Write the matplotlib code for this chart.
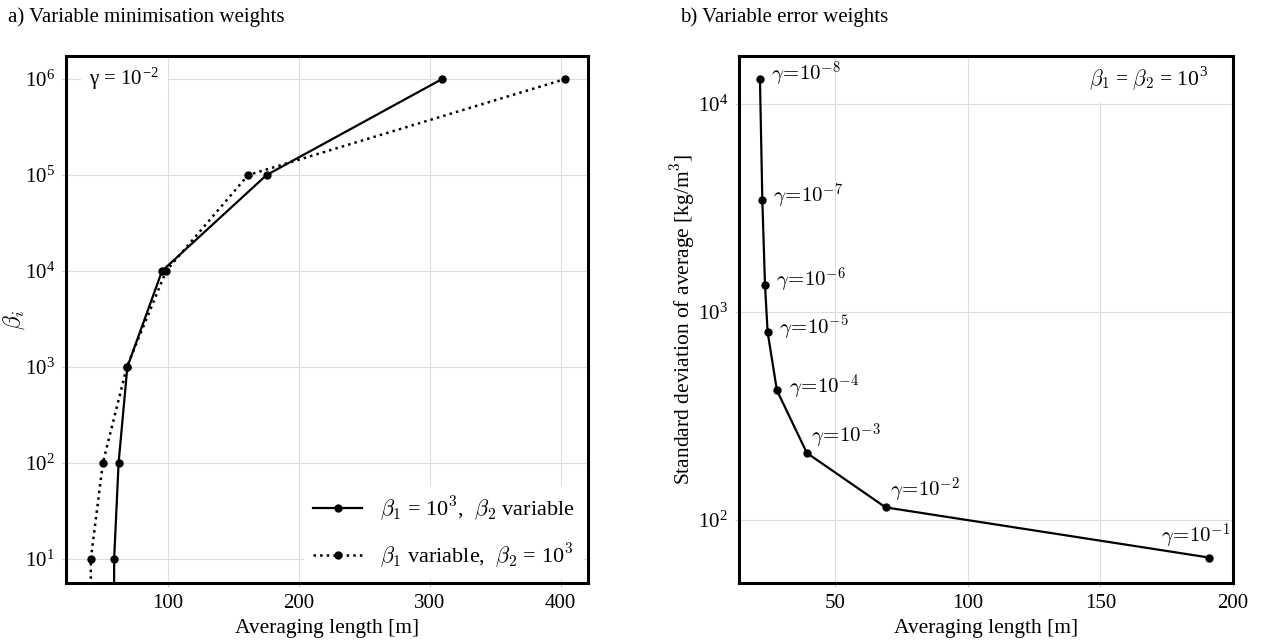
import numpy as np
import matplotlib
matplotlib.use("Agg")
import matplotlib.pyplot as plt

plt.rcParams['font.family'] = ['Liberation Serif', 'DejaVu Serif']
plt.rcParams['mathtext.fontset'] = 'cm'
plt.rcParams['font.size'] = 15

# a) variable minimisation weights
beta_values = [1e0, 1e1, 1e2, 1e3, 1e4, 1e5, 1e6]
len_beta2_var = [58.7, 58.8, 62.2, 68.9, 95.4, 175.3, 309.4]   # beta1 = 1e3
len_beta1_var = [40.8, 41.0, 50.2, 68.5, 98.5, 161.2, 403.5]   # beta2 = 1e3

# b) variable error weights (beta1 = beta2 = 1e3)
gamma_exp = [-8, -7, -6, -5, -4, -3, -2, -1]
len_gamma = [21.6, 22.5, 23.5, 24.5, 28.0, 39.3, 69.0, 191.0]
std_gamma = [13200, 3450, 1350, 800, 420, 210, 115, 66]

# where to put each gamma label relative to its point (points offset, ha)
label_pos = {-8: (8, 3, 'left'), -7: (8, 3, 'left'), -6: (8, 3, 'left'),
             -5: (8, 3, 'left'), -4: (9, 2, 'left'), -3: (3, 12, 'left'),
             -2: (3, 12, 'left'), -1: (15, 15, 'right')}

W, H = 1263, 644
fig = plt.figure(figsize=(W/100, H/100), dpi=100)

def px_axes(l, t, r, b):
    return fig.add_axes([l/W, 1-b/H, (r-l)/W, (b-t)/H])

def style(ax):
    ax.grid(True, which='major', color='#dddddd', linewidth=0.8)
    ax.set_axisbelow(True)
    for s in ax.spines.values():
        s.set_linewidth(2.2)
    ax.tick_params(which='both', direction='out', length=3, width=0.8,
                   color='#cccccc', labelsize=15, pad=5)
    ax.tick_params(which='minor', length=0)

ax1 = px_axes(66, 56, 588, 583)
style(ax1)
ax1.set_yscale('log')
l1, = ax1.plot(len_beta2_var, beta_values, '-', color='black', lw=1.6,
               marker='o', ms=5)
l2, = ax1.plot(len_beta1_var, beta_values, ':', color='black', lw=1.8,
               marker='o', ms=5)
ax1.set_xlim(22, 421)
ax1.set_ylim(5.6, 1.74e6)
ax1.set_xticks([100, 200, 300, 400])
ax1.set_yticks([1e1, 1e2, 1e3, 1e4, 1e5, 1e6])
ax1.set_xlabel('Averaging length [m]', fontsize=15.5, labelpad=4)
ax1.set_ylabel(r'$\beta_i$', fontsize=17)
ax1.yaxis.set_label_coords((27 - 66) / 522, 0.5)
ax1.text(0.045, 0.955, 'γ = 10$^{\\mathregular{-2}}$', transform=ax1.transAxes,
         fontsize=15, va='center', ha='left',
         bbox=dict(facecolor='white', edgecolor='none', pad=6))
leg = ax1.legend([l1, l2],
                 [r'$\beta_1$ = 10$^3$,  $\beta_2$ variable',
                  r'$\beta_1$ variable,  $\beta_2$ = 10$^3$'],
                 loc='lower right', fontsize=16, frameon=True, fancybox=False,
                 framealpha=1, edgecolor='none', handlelength=2.2,
                 labelspacing=0.8, borderaxespad=0.2)

ax2 = px_axes(739, 56, 1233, 583)
style(ax2)
ax2.set_yscale('log')
ax2.plot(len_gamma, std_gamma, '-', color='black', lw=1.6, marker='o', ms=5)
for g, xv, yv in zip(gamma_exp, len_gamma, std_gamma):
    dx, dy, ha = label_pos[g]
    ax2.annotate(r'$\gamma\!=\!10^{%d}$' % g, (xv, yv), xytext=(dx, dy),
                 textcoords='offset points', ha=ha, va='center', fontsize=15)
ax2.set_xlim(13.7, 200)
ax2.set_ylim(49.8, 17000)
ax2.set_xticks([50, 100, 150, 200])
ax2.set_yticks([1e2, 1e3, 1e4])
ax2.set_xlabel('Averaging length [m]', fontsize=15.5, labelpad=4)
ax2.set_ylabel('Standard deviation of average [kg/m$^3$]', fontsize=15.5)
ax2.yaxis.set_label_coords((697 - 739) / 494, 0.5)
ax2.text(0.95, 0.955, r'$\beta_1$ = $\beta_2$ = 10$^{\mathregular{3}}$',
         transform=ax2.transAxes, fontsize=15.5, va='center', ha='right',
         bbox=dict(facecolor='white', edgecolor='none', pad=6))

fig.text(8/W, 1-17/H, 'a) Variable minimisation weights', fontsize=15,
         va='center', ha='left')
fig.text(680/W, 1-17/H, 'b) Variable error weights', fontsize=15,
         va='center', ha='left')

fig.savefig('out.png', dpi=100)
